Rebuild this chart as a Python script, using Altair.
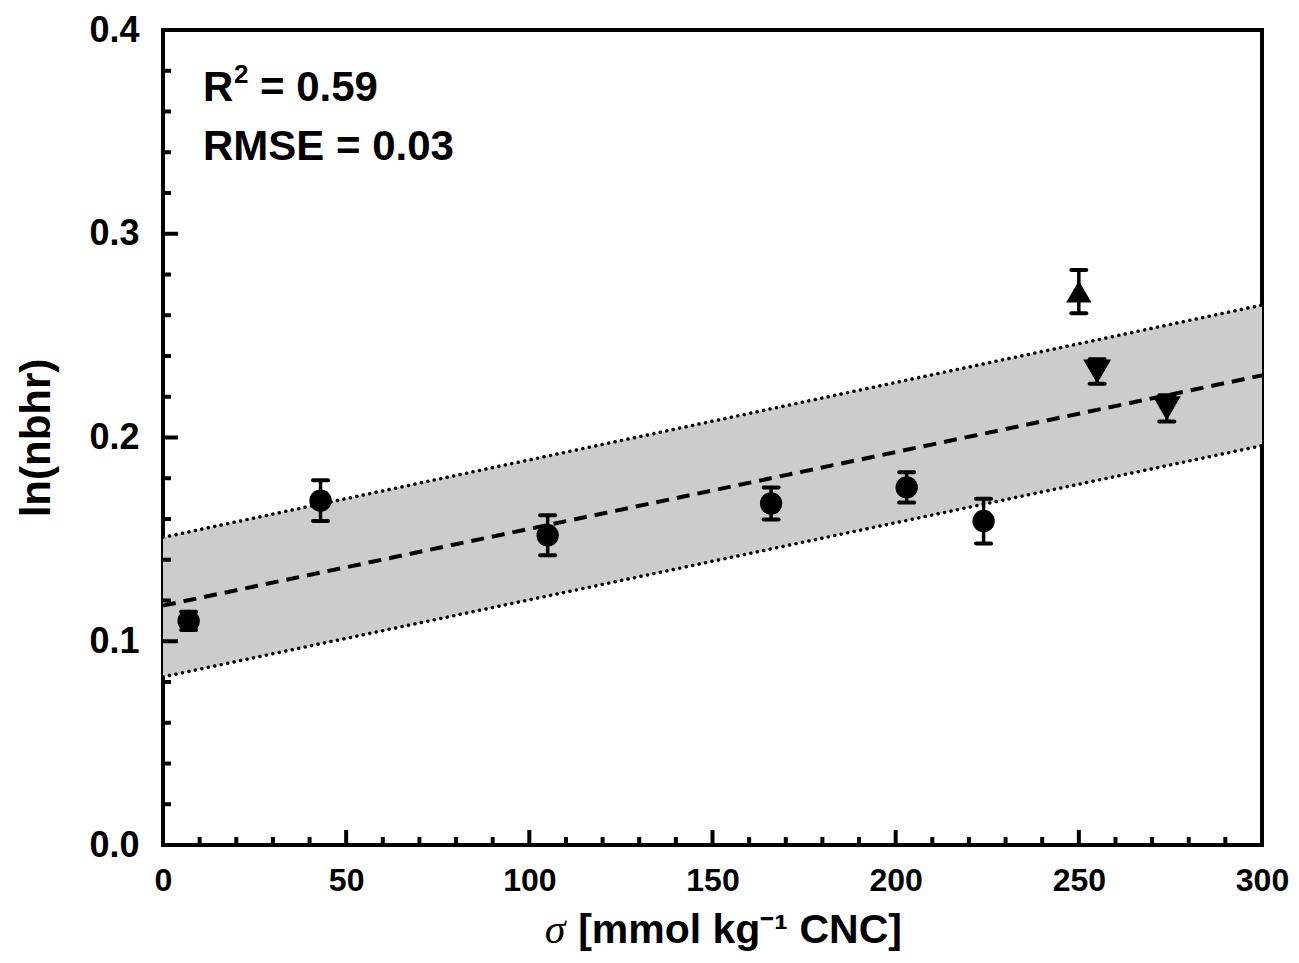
import altair as alt
import pandas as pd

# ---- data ----
sigma = [7, 43, 105, 166, 203, 224, 250, 255, 274]
ln_nbhr = [0.110, 0.169, 0.152, 0.1676, 0.1755, 0.159, 0.2716, 0.2324, 0.2143]
err = [0.0045, 0.010, 0.0098, 0.0078, 0.0074, 0.011, 0.0106, 0.006, 0.0064]
marker = ["circle"] * 6 + ["triangle-up", "triangle-down", "triangle-down"]

fit_x = [0, 300]
fit_y = [0.1175, 0.2305]
band_upper = [0.151, 0.265]
band_lower = [0.0825, 0.196]

x_major = [0, 50, 100, 150, 200, 250, 300]
x_minor = [v for v in range(10, 300, 10) if v % 50 != 0]
y_major = [0.0, 0.1, 0.2, 0.3, 0.4]
y_minor = [round(v * 0.02, 2) for v in range(1, 20) if v % 5 != 0]

annot_r = ["R", "2", "= 0.59"]
annot_rmse = "RMSE = 0.03"
x_title_sym = "σ"
x_title_rest = "[mmol kg⁻¹ CNC]"
y_title = "ln(nbhr)"

W, H = 1099, 815
FONT = "Liberation Sans"

pts = pd.DataFrame({"x": sigma, "y": ln_nbhr, "err": err, "shape": marker})
pts["lo"] = pts["y"] - pts["err"]
pts["hi"] = pts["y"] + pts["err"]
fit = pd.DataFrame({"x": fit_x, "y": fit_y, "up": band_upper, "low": band_lower})

xs = alt.Scale(domain=[0, 300], nice=False, zero=False)
ys = alt.Scale(domain=[0, 0.4], nice=False, zero=False)
xaxis = alt.Axis(values=x_major, labelFontSize=32, labelPadding=20, labelFlush=False,
                 title=None, format="d")
yaxis = alt.Axis(values=y_major, labelFontSize=36, labelPadding=24, labelFlush=False,
                 format=".1f", title=y_title, titleFontSize=42, titlePadding=30)

X = alt.X("x:Q", scale=xs, axis=xaxis)
Y = alt.Y("y:Q", scale=ys, axis=yaxis)

band = alt.Chart(fit).mark_area(color="#cccccc", opacity=1).encode(
    x=X, y=alt.Y("low:Q", scale=ys, axis=yaxis), y2="up:Q")
dot_style = dict(color="black", strokeWidth=3.5, strokeDash=[0.1, 6.5], strokeCap="round")
upper = alt.Chart(fit).mark_line(**dot_style).encode(x=X, y=alt.Y("up:Q", scale=ys, axis=yaxis))
lower = alt.Chart(fit).mark_line(**dot_style).encode(x=X, y=alt.Y("low:Q", scale=ys, axis=yaxis))
fitline = alt.Chart(fit).mark_line(color="black", strokeWidth=4, strokeDash=[13, 8]).encode(x=X, y=Y)

ebar = alt.Chart(pts).mark_rule(color="black", strokeWidth=3.5).encode(
    x=X, y=alt.Y("lo:Q", scale=ys, axis=yaxis), y2="hi:Q")
cap_style = dict(color="black", strokeWidth=4, strokeCap="round", xOffset=-7.5, x2Offset=7.5)
cap_lo = alt.Chart(pts).mark_rule(**cap_style).encode(
    x=X, x2="x:Q", y=alt.Y("lo:Q", scale=ys, axis=yaxis))
cap_hi = alt.Chart(pts).mark_rule(**cap_style).encode(
    x=X, x2="x:Q", y=alt.Y("hi:Q", scale=ys, axis=yaxis))

shape_dom = ["circle", "triangle-up", "triangle-down"]
points = alt.Chart(pts).mark_point(filled=True, opacity=1, color="black").encode(
    x=X, y=Y,
    shape=alt.Shape("shape:N", scale=alt.Scale(domain=shape_dom, range=shape_dom), legend=None),
    size=alt.Size("shape:N", scale=alt.Scale(domain=shape_dom, range=[500, 780, 780]), legend=None),
)

# inward ticks
txm = alt.Chart(pd.DataFrame({"x": x_major})).mark_rule(color="black", strokeWidth=4).encode(
    x=X, y=alt.value(H), y2=alt.value(H - 15))
txn = alt.Chart(pd.DataFrame({"x": x_minor})).mark_rule(color="black", strokeWidth=4).encode(
    x=X, y=alt.value(H), y2=alt.value(H - 8))
tym = alt.Chart(pd.DataFrame({"y": y_major})).mark_rule(color="black", strokeWidth=4).encode(
    y=Y, x=alt.value(0), x2=alt.value(15))
tyn = alt.Chart(pd.DataFrame({"y": y_minor})).mark_rule(color="black", strokeWidth=4).encode(
    y=Y, x=alt.value(0), x2=alt.value(8))


def txt(s, x, y, size=42, align="left", font=FONT, weight="bold", style="normal"):
    return alt.Chart(pd.DataFrame({"t": [s]})).mark_text(
        align=align, baseline="alphabetic", font=font, fontWeight=weight, fontStyle=style,
        fontSize=size, color="black"
    ).encode(text="t:N", x=alt.value(x), y=alt.value(y))


t_r = txt(annot_r[0], 40, 71)
t_2 = txt(annot_r[1], 71, 53, size=26)
t_eq = txt(annot_r[2], 97, 71)
t_rmse = txt(annot_rmse, 40, 130)

xt1 = txt(x_title_sym, 392, 913, size=42, align="center", font="Liberation Serif",
          weight="normal", style="italic")
xt2 = txt(x_title_rest, 577, 913, size=41, align="center")

chart = alt.layer(
    band, upper, lower, fitline, ebar, cap_lo, cap_hi, points,
    txm, txn, tym, tyn, t_r, t_2, t_eq, t_rmse, xt1, xt2
).properties(
    width=W, height=H,
    padding={"left": 155, "top": 22, "right": 29, "bottom": 108},
    autosize=alt.AutoSizeParams(type="none"),
    background="white",
).configure_view(
    stroke="black", strokeWidth=4
).configure_axis(
    grid=False, ticks=False, domain=False,
    labelFont=FONT, labelFontWeight="bold", labelColor="black",
    titleFont=FONT, titleFontWeight="bold", titleColor="black",
)

chart.save("out.html", embed_options={"renderer": "svg", "actions": False})
